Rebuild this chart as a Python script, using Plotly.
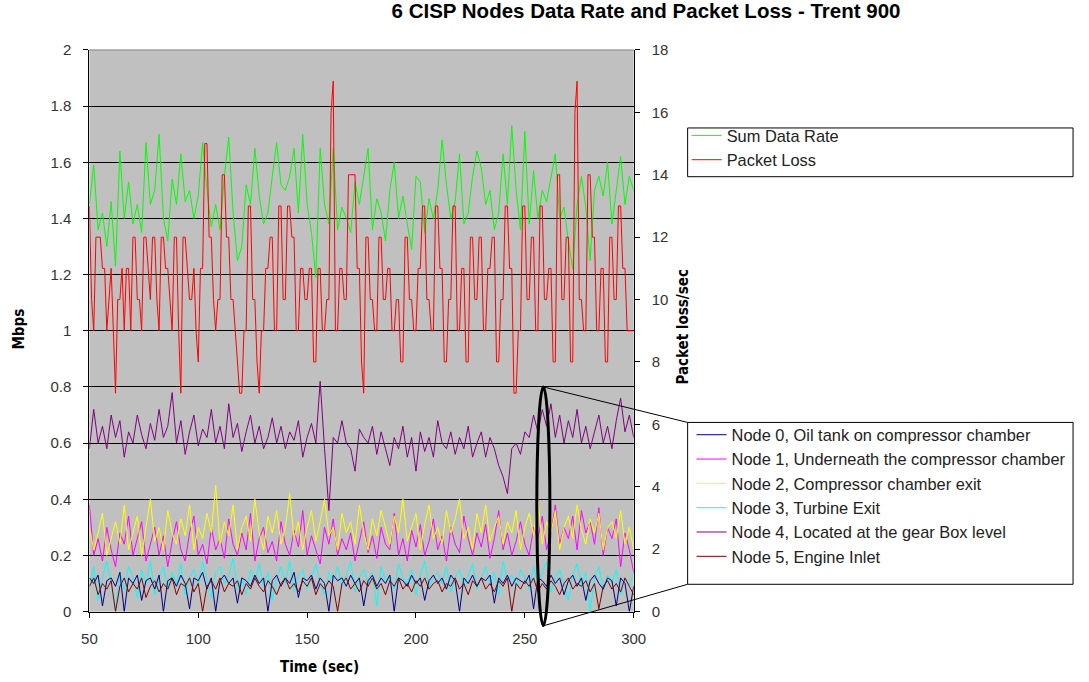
import plotly.graph_objects as go

# Time axes (seconds): 2-second sampling for the rate series, 1-second for packet loss
time_2s = list(range(50, 301, 2))
time_1s = list(range(50, 301))

# Sum data rate (Mbps)
sum_rate = [
    1.45, 1.59, 1.36, 1.42, 1.30, 1.46, 1.23, 1.64, 1.40, 1.53,
    1.38, 1.45, 1.35, 1.67, 1.45, 1.50, 1.70, 1.40, 1.32, 1.54,
    1.45, 1.63, 1.46, 1.50, 1.40, 1.48, 1.67, 1.50, 1.37, 1.45,
    1.36, 1.55, 1.69, 1.42, 1.25, 1.30, 1.52, 1.45, 1.65, 1.48,
    1.38, 1.42, 1.55, 1.67, 1.52, 1.50, 1.55, 1.65, 1.42, 1.70,
    1.45, 1.35, 1.19, 1.65, 1.45, 1.38, 1.65, 1.36, 1.44, 1.40,
    1.35, 1.53, 1.45, 1.55, 1.65, 1.36, 1.47, 1.42, 1.32, 1.50,
    1.60, 1.40, 1.48, 1.38, 1.29, 1.55, 1.53, 1.35, 1.47, 1.40,
    1.50, 1.68, 1.52, 1.40, 1.46, 1.63, 1.38, 1.42, 1.55, 1.64,
    1.58, 1.45, 1.50, 1.36, 1.42, 1.63, 1.45, 1.73, 1.50, 1.36,
    1.71, 1.38, 1.57, 1.40, 1.50, 1.46, 1.55, 1.63, 1.40, 1.44,
    1.32, 1.22, 1.45, 1.55, 1.44, 1.25, 1.50, 1.55, 1.48, 1.60,
    1.38, 1.50, 1.62, 1.45, 1.55, 1.50,
]

# Packet loss (packets/sec, secondary axis), one value per second
packet_loss = [
    13, 10, 9, 12, 12, 12, 11, 11, 9, 10,
    11, 9, 7, 10, 10, 11, 9, 11, 11, 9,
    12, 12, 10, 10, 9, 12, 12, 11, 10, 12,
    12, 10, 9, 12, 12, 11, 11, 10, 9, 12,
    12, 9, 7, 12, 12, 11, 10, 10, 11, 9,
    8, 11, 11, 15, 15, 12, 12, 10, 9, 10,
    10, 14, 14, 12, 12, 10, 10, 9, 8, 7,
    7, 9, 9, 13, 13, 10, 10, 8, 7, 9,
    9, 11, 11, 12, 12, 9, 9, 13, 13, 10,
    10, 13, 13, 12, 12, 9, 9, 11, 11, 10,
    10, 11, 11, 8, 8, 11, 11, 9, 9, 10,
    10, 16, 17, 9, 9, 11, 11, 10, 10, 14,
    14, 14, 14, 11, 11, 8, 7, 12, 12, 10,
    10, 9, 9, 12, 12, 10, 10, 11, 11, 9,
    9, 10, 10, 8, 8, 12, 12, 10, 10, 9,
    9, 11, 11, 13, 13, 10, 10, 9, 9, 13,
    13, 11, 11, 8, 8, 10, 10, 13, 13, 9,
    9, 11, 11, 8, 8, 12, 12, 10, 10, 12,
    12, 9, 9, 11, 11, 12, 12, 8, 8, 10,
    10, 13, 13, 11, 11, 7, 7, 9, 9, 13,
    13, 10, 10, 12, 12, 9, 9, 13, 13, 10,
    10, 11, 11, 8, 8, 14, 14, 10, 10, 12,
    12, 8, 8, 16, 17, 10, 10, 9, 9, 14,
    14, 12, 12, 9, 9, 11, 11, 8, 8, 12,
    12, 10, 10, 13, 13, 11, 11, 9, 9, 9,
    9,
]

# Per-node data rates (Mbps)
node0 = [
    0.12, 0.10, 0.13, 0.02, 0.11, 0.12, 0.09, 0.14, 0.00, 0.12,
    0.10, 0.13, 0.04, 0.11, 0.12, 0.08, 0.13, 0.00, 0.11, 0.12,
    0.09, 0.13, 0.10, 0.01, 0.12, 0.11, 0.14, 0.08, 0.12, 0.00,
    0.11, 0.13, 0.10, 0.12, 0.03, 0.12, 0.11, 0.09, 0.13, 0.10,
    0.12, 0.00, 0.11, 0.13, 0.09, 0.12, 0.10, 0.14, 0.05, 0.12,
    0.11, 0.13, 0.08, 0.12, 0.10, 0.00, 0.13, 0.11, 0.12, 0.09,
    0.13, 0.10, 0.12, 0.02, 0.11, 0.13, 0.09, 0.12, 0.10, 0.13,
    0.00, 0.12, 0.11, 0.09, 0.13, 0.10, 0.12, 0.04, 0.11, 0.13,
    0.10, 0.12, 0.08, 0.13, 0.11, 0.00, 0.12, 0.10, 0.13, 0.09,
    0.12, 0.11, 0.13, 0.03, 0.12, 0.10, 0.13, 0.09, 0.12, 0.11,
    0.10, 0.13, 0.01, 0.12, 0.11, 0.09, 0.13, 0.10, 0.12, 0.06,
    0.11, 0.13, 0.09, 0.12, 0.04, 0.11, 0.13, 0.10, 0.08, 0.12,
    0.11, 0.02, 0.12, 0.10, 0.00, 0.09,
]
node1 = [
    0.38, 0.20, 0.26, 0.18, 0.30, 0.22, 0.16, 0.28, 0.24, 0.34,
    0.20, 0.26, 0.32, 0.18, 0.24, 0.30, 0.20, 0.27, 0.16, 0.25,
    0.32, 0.22, 0.18, 0.28, 0.34, 0.20, 0.24, 0.17, 0.30, 0.22,
    0.26, 0.19, 0.33, 0.24, 0.20, 0.28, 0.22, 0.35, 0.18, 0.26,
    0.30, 0.21, 0.25, 0.18, 0.32, 0.24, 0.20, 0.29, 0.23, 0.36,
    0.20, 0.27, 0.22, 0.17, 0.30, 0.24, 0.33, 0.20, 0.26, 0.22,
    0.28, 0.18, 0.25, 0.32, 0.21, 0.27, 0.19, 0.30, 0.24, 0.22,
    0.35, 0.20, 0.26, 0.18, 0.29, 0.23, 0.31, 0.20, 0.25, 0.33,
    0.22, 0.27, 0.18, 0.30, 0.24, 0.21, 0.34, 0.26, 0.20, 0.28,
    0.23, 0.31, 0.19, 0.26, 0.36, 0.22, 0.28, 0.20, 0.25, 0.32,
    0.24, 0.20, 0.30, 0.26, 0.34, 0.22, 0.28, 0.38, 0.24, 0.30,
    0.26, 0.34, 0.22, 0.36, 0.28, 0.32, 0.24, 0.37, 0.20, 0.30,
    0.26, 0.33, 0.16, 0.28, 0.22, 0.14,
]
node2 = [
    0.30, 0.22, 0.28, 0.35, 0.20, 0.26, 0.32, 0.24, 0.38, 0.22,
    0.28, 0.34, 0.20, 0.30, 0.40, 0.25, 0.30, 0.22, 0.36, 0.28,
    0.24, 0.33, 0.27, 0.38, 0.22, 0.30, 0.26, 0.35, 0.28, 0.45,
    0.24, 0.32, 0.27, 0.38, 0.22, 0.30, 0.34, 0.25, 0.40, 0.28,
    0.22, 0.34, 0.28, 0.36, 0.24, 0.30, 0.42, 0.26, 0.32, 0.22,
    0.30, 0.36, 0.25, 0.32, 0.40, 0.27, 0.30, 0.22, 0.35, 0.28,
    0.32, 0.24, 0.38, 0.28, 0.22, 0.33, 0.27, 0.36, 0.30, 0.24,
    0.34, 0.28, 0.40, 0.25, 0.30, 0.35, 0.22, 0.31, 0.38, 0.26,
    0.30, 0.24, 0.36, 0.28, 0.33, 0.40, 0.26, 0.30, 0.22, 0.35,
    0.28, 0.38, 0.25, 0.30, 0.34, 0.24, 0.32, 0.28, 0.36, 0.22,
    0.30, 0.35, 0.27, 0.40, 0.24, 0.32, 0.28, 0.36, 0.22, 0.30,
    0.34, 0.26, 0.38, 0.29, 0.24, 0.33, 0.28, 0.35, 0.22, 0.30,
    0.32, 0.26, 0.36, 0.24, 0.30, 0.22,
]
node3 = [
    0.08, 0.16, 0.04, 0.12, 0.18, 0.10, 0.00, 0.14, 0.08, 0.16,
    0.12, 0.05, 0.15, 0.10, 0.18, 0.06, 0.12, 0.16, 0.08, 0.14,
    0.10, 0.17, 0.06, 0.12, 0.15, 0.09, 0.18, 0.11, 0.05, 0.14,
    0.16, 0.10, 0.13, 0.19, 0.08, 0.12, 0.06, 0.15, 0.11, 0.17,
    0.09, 0.14, 0.04, 0.12, 0.16, 0.10, 0.18, 0.07, 0.13, 0.15,
    0.08, 0.12, 0.17, 0.10, 0.06, 0.14, 0.11, 0.16, 0.09, 0.13,
    0.18, 0.07, 0.12, 0.15, 0.10, 0.14, 0.02, 0.16, 0.11, 0.13,
    0.08, 0.17, 0.12, 0.10, 0.15, 0.06, 0.13, 0.18, 0.09, 0.12,
    0.14, 0.10, 0.16, 0.07, 0.12, 0.15, 0.09, 0.13, 0.17, 0.08,
    0.12, 0.16, 0.10, 0.14, 0.06, 0.18, 0.11, 0.13, 0.09, 0.15,
    0.12, 0.08, 0.16, 0.10, 0.14, 0.18, 0.07, 0.12, 0.15, 0.10,
    0.04, 0.13, 0.17, 0.09, 0.14, 0.00, 0.12, 0.16, 0.08, 0.13,
    0.10, 0.15, 0.06, 0.12, 0.09, 0.14,
]
node4 = [
    0.58, 0.72, 0.60, 0.66, 0.58, 0.70, 0.62, 0.68, 0.55, 0.64,
    0.60, 0.70, 0.63, 0.58, 0.67, 0.61, 0.72, 0.62, 0.66, 0.78,
    0.60, 0.68, 0.56, 0.64, 0.70, 0.59, 0.65, 0.62, 0.72, 0.60,
    0.66, 0.58, 0.74, 0.62, 0.67, 0.57, 0.64, 0.70, 0.60, 0.66,
    0.58, 0.62, 0.69, 0.60, 0.66, 0.58, 0.64, 0.61, 0.68, 0.55,
    0.62, 0.67, 0.60, 0.82, 0.58, 0.36, 0.62, 0.60, 0.68, 0.60,
    0.58, 0.50, 0.65, 0.62, 0.60, 0.66, 0.56, 0.64, 0.58, 0.52,
    0.62, 0.58, 0.66, 0.55, 0.62, 0.50, 0.64, 0.57, 0.62, 0.55,
    0.68, 0.60, 0.58, 0.64, 0.56, 0.62, 0.58, 0.66, 0.55, 0.60,
    0.64, 0.55, 0.62, 0.58, 0.52, 0.48, 0.42, 0.58, 0.60, 0.56,
    0.64, 0.62, 0.70, 0.64, 0.72, 0.66, 0.74, 0.62, 0.70, 0.60,
    0.68, 0.62, 0.72, 0.60, 0.66, 0.58, 0.64, 0.70, 0.60, 0.66,
    0.58, 0.68, 0.76, 0.64, 0.70, 0.62,
]
node5 = [
    0.09, 0.12, 0.06, 0.10, 0.08, 0.11, 0.00, 0.09, 0.12, 0.07,
    0.10, 0.08, 0.12, 0.05, 0.09, 0.11, 0.07, 0.10, 0.08, 0.12,
    0.06, 0.10, 0.09, 0.12, 0.07, 0.10, 0.00, 0.09, 0.11, 0.08,
    0.12, 0.07, 0.10, 0.09, 0.11, 0.06, 0.10, 0.08, 0.12, 0.09,
    0.07, 0.11, 0.09, 0.06, 0.10, 0.12, 0.08, 0.10, 0.07, 0.11,
    0.09, 0.12, 0.06, 0.10, 0.08, 0.11, 0.09, 0.00, 0.10, 0.12,
    0.08, 0.10, 0.07, 0.11, 0.09, 0.12, 0.08, 0.10, 0.06, 0.11,
    0.09, 0.12, 0.08, 0.10, 0.07, 0.11, 0.09, 0.12, 0.08, 0.10,
    0.11, 0.07, 0.10, 0.09, 0.12, 0.08, 0.10, 0.06, 0.11, 0.09,
    0.12, 0.08, 0.10, 0.07, 0.11, 0.09, 0.12, 0.00, 0.10, 0.08,
    0.11, 0.09, 0.12, 0.07, 0.10, 0.08, 0.11, 0.09, 0.06, 0.10,
    0.12, 0.08, 0.10, 0.09, 0.11, 0.07, 0.10, 0.01, 0.09, 0.11,
    0.08, 0.10, 0.07, 0.12, 0.09, 0.06,
]

node_names = [
    "Node 0, Oil tank on compressor chamber",
    "Node 1, Underneath the compressor chamber",
    "Node 2, Compressor chamber exit",
    "Node 3, Turbine Exit",
    "Node 4, Located at the gear Box level",
    "Node 5, Engine Inlet",
]
node_colors = ["#000080", "#FF00FF", "#FFFF00", "#00FFFF", "#800080", "#800000"]
node_series = [node0, node1, node2, node3, node4, node5]

# Canvas geometry (pixels)
W, H = 1089, 682
PX_L, PX_R, PX_T, PX_B = 83, 638, 42, 618
X_RANGE = (50, 300)
Y_RANGE = (0, 2)


def px_x(px):
    return px / W


def px_y(py):
    return 1 - py / H


def data_to_paper(x, y):
    fx = (x - X_RANGE[0]) / (X_RANGE[1] - X_RANGE[0])
    fy = (y - Y_RANGE[0]) / (Y_RANGE[1] - Y_RANGE[0])
    return (px_x(PX_L) + fx * (px_x(PX_R) - px_x(PX_L)),
            px_y(PX_B) + fy * (px_y(PX_T) - px_y(PX_B)))


fig = go.Figure()

# Draw order: light node lines first, darker ones on top
draw_order = [3, 1, 2, 0, 5, 4]
for i in draw_order:
    fig.add_trace(go.Scatter(
        x=time_2s, y=node_series[i], mode="lines", name=node_names[i],
        line=dict(color=node_colors[i], width=1),
        legend="legend2", legendrank=i + 1,
    ))

fig.add_trace(go.Scatter(
    x=time_2s, y=sum_rate, mode="lines", name="Sum Data Rate",
    line=dict(color="#00FF00", width=1), legend="legend", legendrank=1,
))
fig.add_trace(go.Scatter(
    x=time_1s, y=packet_loss, mode="lines", name="Packet Loss",
    line=dict(color="#FF0000", width=1), yaxis="y2",
    legend="legend", legendrank=2,
))

tick_font = dict(family="Liberation Sans, Arial, sans-serif", size=15, color="#333333")
bold_font = dict(family="DejaVu Sans Condensed, DejaVu Sans, sans-serif", size=15,
                 color="#000000")

# Ellipse marking the 255-262 s window (it dips below the x axis, so it is
# placed in paper space to avoid clipping) and its callout lines
ell_lo = data_to_paper(255.5, -0.05)
ell_hi = data_to_paper(261.5, 0.80)
top_pt = data_to_paper(258.5, 0.80)
bot_pt = data_to_paper(258.8, -0.05)

LEG1 = (693, 1086, 122, 172)
LEG2 = (693, 1086, 424, 590)

shapes = [
    # top border of plot area
    dict(type="line", xref="paper", yref="paper",
         x0=px_x(PX_L), x1=px_x(PX_R), y0=px_y(PX_T), y1=px_y(PX_T),
         line=dict(color="#808080", width=1)),
    # legend frames
    dict(type="rect", xref="paper", yref="paper",
         x0=px_x(LEG1[0]), x1=px_x(LEG1[1]), y0=px_y(LEG1[3]), y1=px_y(LEG1[2]),
         line=dict(color="#000000", width=1), fillcolor="white", layer="below"),
    dict(type="rect", xref="paper", yref="paper",
         x0=px_x(LEG2[0]), x1=px_x(LEG2[1]), y0=px_y(LEG2[3]), y1=px_y(LEG2[2]),
         line=dict(color="#000000", width=1), fillcolor="white", layer="below"),
    dict(type="line", xref="paper", yref="paper",
         x0=top_pt[0], y0=top_pt[1], x1=px_x(LEG2[0]), y1=px_y(LEG2[2]),
         line=dict(color="#000000", width=1)),
    dict(type="line", xref="paper", yref="paper",
         x0=bot_pt[0], y0=bot_pt[1], x1=px_x(LEG2[0]), y1=px_y(LEG2[3]),
         line=dict(color="#000000", width=1)),
    dict(type="circle", xref="paper", yref="paper",
         x0=ell_lo[0], x1=ell_hi[0], y0=ell_lo[1], y1=ell_hi[1],
         line=dict(color="#000000", width=3)),
]

legend_common = dict(
    bgcolor="rgba(0,0,0,0)", borderwidth=0,
    font=dict(family="Liberation Sans, Arial, sans-serif", size=16.4, color="#222222"),
    xanchor="left", yanchor="top", traceorder="normal",
    itemwidth=30, tracegroupgap=0,
)

fig.update_layout(
    width=W, height=H,
    margin=dict(l=0, r=0, t=0, b=0),
    paper_bgcolor="white",
    plot_bgcolor="#C0C0C0",
    showlegend=True,
    title=dict(
        text="6 CISP Nodes Data Rate and Packet Loss - Trent 900",
        font=dict(family="Liberation Sans, Arial, sans-serif", size=20.5, color="#000000",
                  weight="bold"),
        x=px_x(646), xanchor="center", y=px_y(11), yanchor="middle",
    ),
    xaxis=dict(
        domain=[px_x(PX_L), px_x(PX_R)], range=list(X_RANGE),
        tickvals=[50, 100, 150, 200, 250, 300],
        ticks="outside", ticklen=5, tickcolor="#000000", ticklabelstandoff=8,
        showline=True, linecolor="#000000", linewidth=1,
        showgrid=False, zeroline=False, tickfont=tick_font,
    ),
    yaxis=dict(
        domain=[px_y(PX_B), px_y(PX_T)], range=list(Y_RANGE), dtick=0.2,
        ticks="outside", ticklen=5, tickcolor="#000000", ticklabelstandoff=9,
        showline=True, linecolor="#000000", linewidth=1,
        showgrid=True, gridcolor="#000000", gridwidth=1,
        zeroline=False, tickfont=tick_font,
    ),
    yaxis2=dict(
        overlaying="y", side="right", range=[0, 18], dtick=2,
        ticks="outside", ticklen=5, tickcolor="#000000", ticklabelstandoff=9,
        showline=True, linecolor="#000000", linewidth=1,
        showgrid=False, zeroline=False, tickfont=tick_font,
    ),
    legend=dict(x=px_x(LEG1[0] - 1), y=px_y(112), **legend_common),
    legend2=dict(x=px_x(LEG2[0] + 4), y=px_y(419), **legend_common),
    shapes=shapes,
    annotations=[
        dict(text="<b>Mbps</b>", xref="paper", yref="paper",
             x=px_x(11), y=px_y(328), xanchor="center", yanchor="middle",
             showarrow=False, textangle=-90, font=bold_font),
        dict(text="<b>Packet loss/sec</b>", xref="paper", yref="paper",
             x=px_x(688), y=px_y(326), xanchor="center", yanchor="middle",
             showarrow=False, textangle=-90, font=bold_font),
        dict(text="<b>Time (sec)</b>", xref="paper", yref="paper",
             x=px_x(318), y=px_y(675), xanchor="center", yanchor="middle",
             showarrow=False, font=bold_font),
    ],
)

fig.write_html("out.html")
